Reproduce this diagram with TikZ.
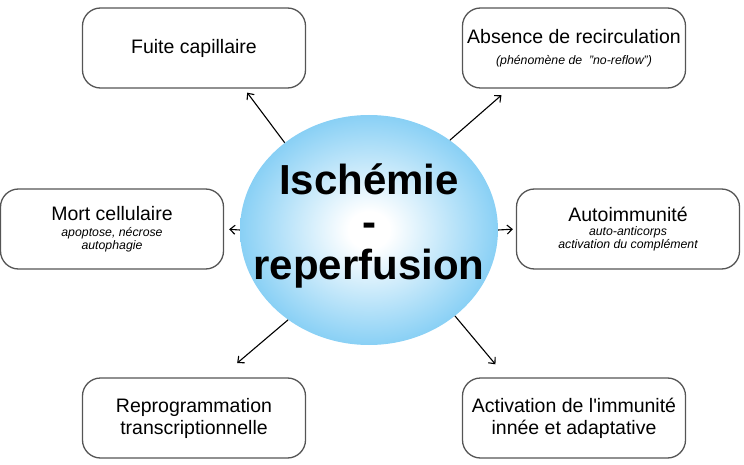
\documentclass[tikz,border=0pt]{standalone}
\usepackage{fontspec}
\setmainfont{Liberation Sans}
\usetikzlibrary{positioning, arrows.meta, shapes.geometric}
\usepackage{xcolor}
\definecolor{irblue}{RGB}{137,208,245}
\definecolor{boxgray}{RGB}{85,85,85}
\pgfdeclareradialshading{irshade}{\pgfpoint{0bp}{0bp}}{color(0bp)=(white); color(4bp)=(white); color(25bp)=(irblue); color(50bp)=(irblue)}
\newcommand{\detail}[1]{{\fontsize{12.3}{13.5}\selectfont\itshape #1}}

\begin{document}
\begin{tikzpicture}[x=1pt, y=-1pt,
        box/.style={rectangle, rounded corners=18pt, draw=boxgray, line width=1.3pt,
                    minimum width=223pt, minimum height=80pt, align=center, inner sep=0pt,
                    font=\fontsize{19.5}{22}\selectfont},
        arr/.style={-{Straight Barb[length=5pt, width=9pt]}, line width=1.1pt}]

        \useasboundingbox (0,0) rectangle (744,465);

        % Nodes
        \node[ellipse, shading=irshade, minimum width=258pt, minimum height=230pt, inner sep=0pt] (ir) at (369,230) {};
        \node[align=center, font=\fontsize{42}{42.5}\selectfont\bfseries] (irtext) at (369,225.5) {Isch\'emie\\-\\reperfusion};

        \node[box] (fuite) at (194,48) {Fuite capillaire};
        \node[box] (absence) at (574,48) {Absence de recirculation\\[-1pt]\detail{(ph\'enom\`ene de\ \ "no-reflow")}};
        \node[box] (mort) at (112,229) {Mort cellulaire\\[-5.5pt]\detail{apoptose, n\'ecrose}\\[-9.5pt]\detail{autophagie}};
        \node[box] (auto) at (628,229) {Autoimmunit\'e\\[-8pt]\detail{auto-anticorps}\\[-9.5pt]\detail{activation du compl\'ement}};
        \node[box] (reprog) at (194,418) {Reprogrammation\\transcriptionnelle};
        \node[box] (activ) at (574,418) {Activation de l\textquotesingle immunit\'e\\inn\'ee et adaptative};

        % Edges
        \draw[arr, shorten >=5pt] (ir.134) -- (fuite.-39);
        \draw[arr, shorten >=10pt] (ir.48) -- (absence.212);
        \draw[arr, shorten >=5pt] (ir.west) -- (mort.east);
        \draw[arr, shorten >=3pt] (ir.east) -- (auto.west);
        \draw[arr, shorten >=22pt] (ir.228) -- (reprog.57);
        \draw[arr, shorten >=17pt] (ir.-45) -- (activ.149);

\end{tikzpicture}
\end{document}
